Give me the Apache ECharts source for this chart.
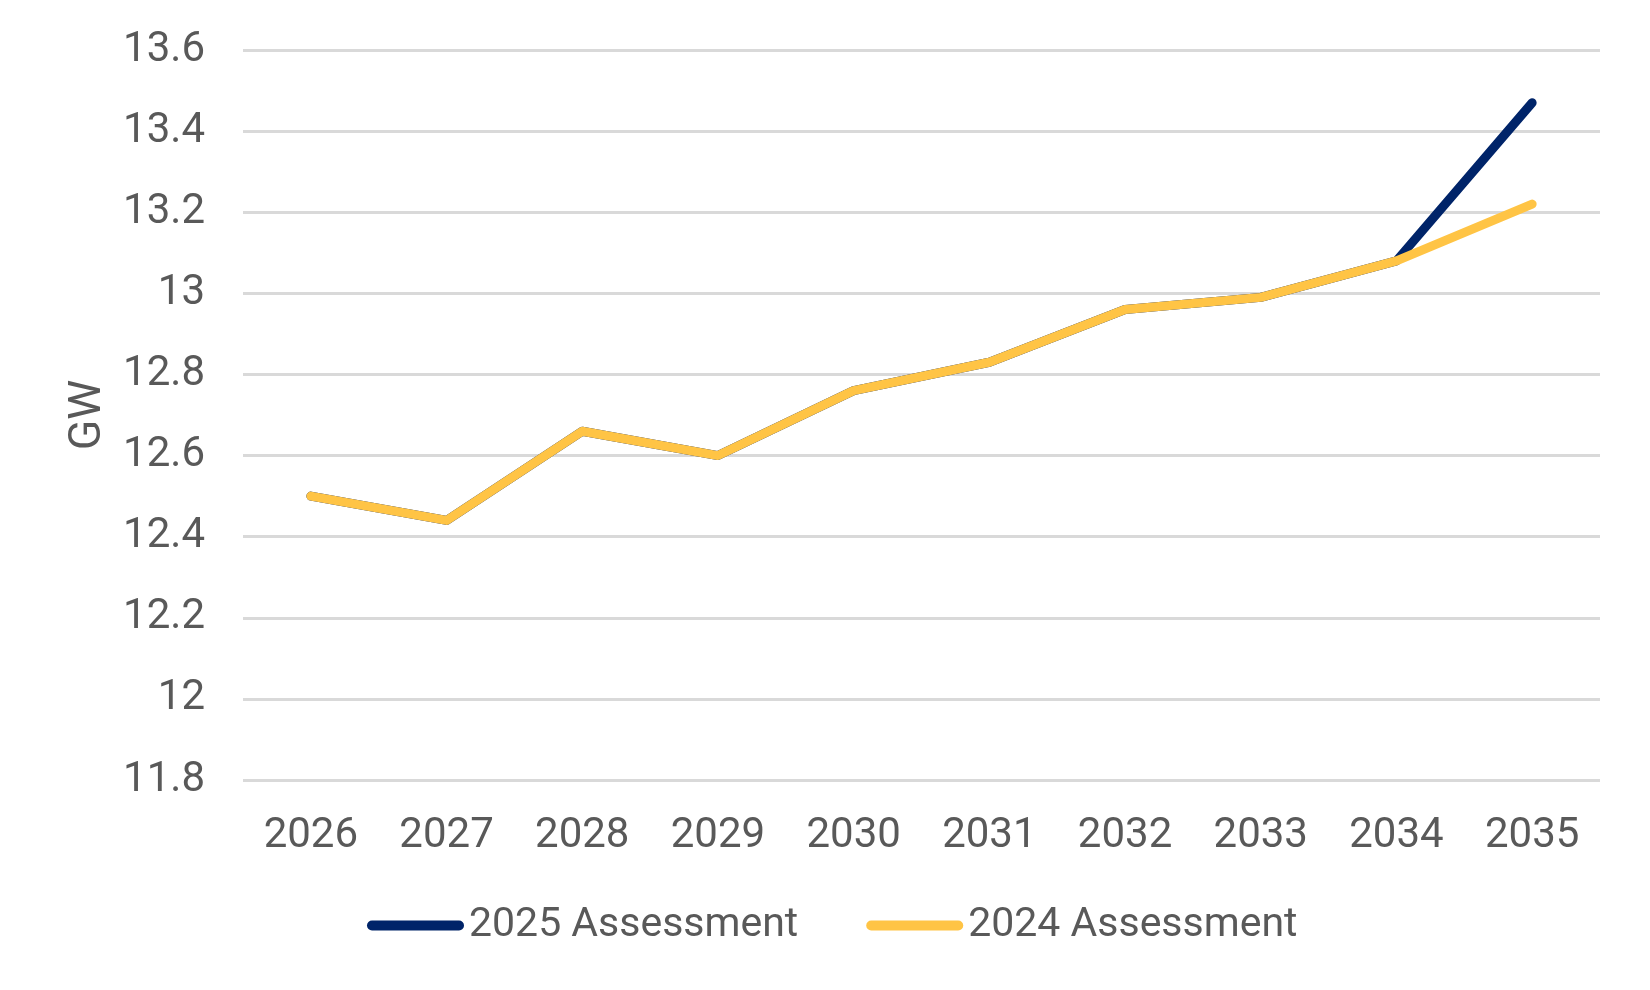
<!DOCTYPE html>
<html>
<head>
<meta charset="utf-8">
<script src="https://cdn.jsdelivr.net/npm/echarts@6/dist/echarts.min.js"></script>
<style>
html,body{margin:0;padding:0;background:#fff;}
#chart{width:1650px;height:990px;}
</style>
</head>
<body>
<div id="chart"></div>
<script>
const years = ['2026','2027','2028','2029','2030','2031','2032','2033','2034','2035'];
const assessment2025 = [12.50, 12.44, 12.66, 12.60, 12.76, 12.83, 12.96, 12.99, 13.08, 13.47];
const assessment2024 = [12.50, 12.44, 12.66, 12.60, 12.76, 12.83, 12.96, 12.99, 13.08, 13.22];
const seriesNames = ['2025 Assessment', '2024 Assessment'];
const yTicks = { min: 11.8, max: 13.6, interval: 0.2 };

const navy = '#002469';
const yellow = '#FFC445';
const txt = '#595959';
const pillPath = 'path://M5,0 L92,0 A5,5 0 0 1 92,10 L5,10 A5,5 0 0 1 5,0 Z';

const chart = echarts.init(document.getElementById('chart'));
chart.setOption({
  animation: false,
  backgroundColor: '#ffffff',
  textStyle: { fontFamily: 'Roboto' },
  grid: { left: 243, right: 50, top: 50, bottom: 210, containLabel: false },
  xAxis: {
    type: 'category',
    data: years,
    boundaryGap: true,
    axisLine: { show: false },
    axisTick: { show: false },
    axisLabel: { color: txt, fontSize: 42, fontFamily: 'Roboto', margin: 35 }
  },
  yAxis: {
    type: 'value',
    min: yTicks.min,
    max: yTicks.max,
    interval: yTicks.interval,
    name: 'GW',
    nameLocation: 'middle',
    nameRotate: 90,
    nameGap: 132,
    nameTextStyle: { color: txt, fontSize: 45, fontFamily: 'Roboto' },
    axisLine: { show: false },
    axisTick: { show: false },
    axisLabel: {
      color: txt, fontSize: 42, fontFamily: 'Roboto', margin: 38,
      formatter: function (v) { return String(Math.round(v * 10) / 10); }
    },
    splitLine: { lineStyle: { color: '#d9d9d9', width: 3 } }
  },
  legend: {
    top: 900,
    left: 362,
    itemWidth: 97,
    itemHeight: 10,
    itemGap: 68,
    textStyle: { color: txt, fontSize: 41, fontFamily: 'Roboto' },
    data: [
      { name: seriesNames[0], icon: pillPath, itemStyle: { color: navy } },
      { name: seriesNames[1], icon: pillPath, itemStyle: { color: yellow } }
    ]
  },
  series: [
    {
      name: seriesNames[0], type: 'line', data: assessment2025,
      symbol: 'none', color: navy,
      lineStyle: { color: navy, width: 9, cap: 'round', join: 'round' }
    },
    {
      name: seriesNames[1], type: 'line', data: assessment2024,
      symbol: 'none', color: yellow,
      lineStyle: { color: yellow, width: 9, cap: 'round', join: 'round' }
    }
  ]
});
</script>
</body>
</html>
